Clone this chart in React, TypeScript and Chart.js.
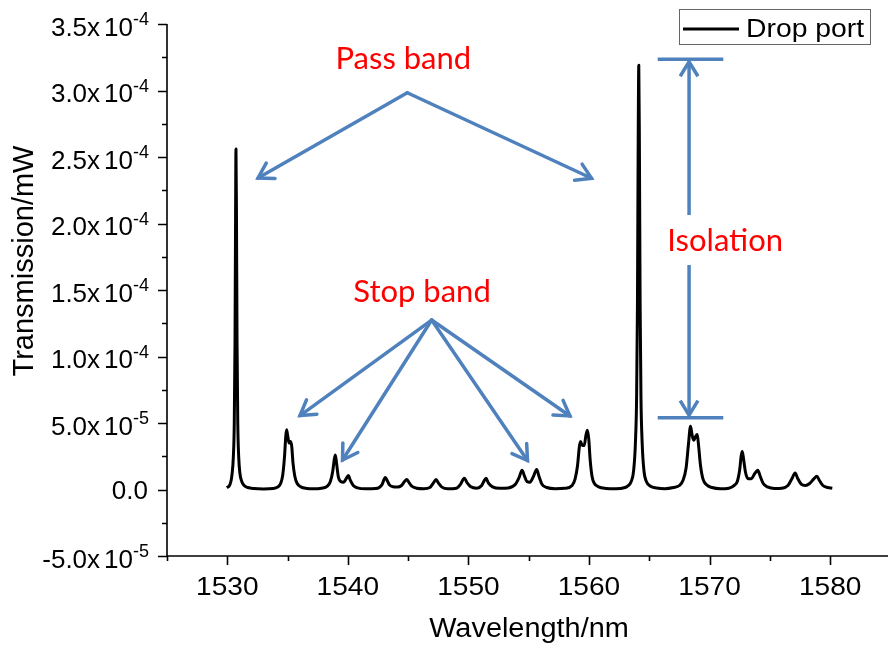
import React, { useEffect, useRef } from "react";
import { Chart, registerables } from "chart.js";

Chart.register(...registerables);

// ---- Data ----
const WAVELENGTH = [
  1529.95, 1530.15, 1530.3, 1530.4, 1530.5, 1530.58, 1530.64, 1530.69, 1530.72, 1530.76,
  1530.81, 1530.87, 1530.95, 1531.05, 1531.2, 1531.4, 1531.7, 1532.2, 1533.0, 1533.8,
  1534.2, 1534.45, 1534.6, 1534.75, 1534.85, 1534.92, 1535.02, 1535.12, 1535.25, 1535.35,
  1535.45, 1535.6, 1535.8, 1536.1, 1536.6, 1537.2, 1537.8, 1538.3, 1538.55, 1538.75,
  1538.88, 1538.96, 1539.06, 1539.2, 1539.4, 1539.65, 1539.85, 1540.04, 1540.2, 1540.45,
  1540.8, 1541.5, 1542.3, 1542.6, 1542.85, 1543.0, 1543.11, 1543.25, 1543.45, 1543.75,
  1544.1, 1544.45, 1544.7, 1544.88, 1545.05, 1545.3, 1545.7, 1546.3, 1546.8, 1547.1,
  1547.32, 1547.5, 1547.8, 1548.3, 1549.0, 1549.35, 1549.66, 1549.9, 1550.2, 1550.7,
  1551.1, 1551.3, 1551.46, 1551.65, 1552.0, 1552.6, 1553.3, 1553.9, 1554.2, 1554.45,
  1554.65, 1554.85, 1555.1, 1555.4, 1555.66, 1555.85, 1556.1, 1556.5, 1557.2, 1558.0,
  1558.6, 1558.85, 1559.05, 1559.2, 1559.3, 1559.45, 1559.6, 1559.75, 1559.87, 1559.98,
  1560.1, 1560.25, 1560.45, 1560.8, 1561.4, 1562.2, 1563.0, 1563.2, 1563.5, 1563.7,
  1563.85, 1563.95, 1564.02, 1564.08, 1564.13, 1564.18, 1564.24, 1564.31, 1564.41, 1564.56,
  1564.76, 1565.1, 1565.6, 1566.3, 1567.0, 1567.5, 1567.8, 1568.05, 1568.25, 1568.42,
  1568.55, 1568.7, 1568.85, 1568.98, 1569.1, 1569.25, 1569.45, 1569.75, 1570.2, 1570.9,
  1571.6, 1572.1, 1572.3, 1572.5, 1572.62, 1572.71, 1572.82, 1572.98, 1573.2, 1573.45,
  1573.75, 1574.0, 1574.2, 1574.45, 1574.8, 1575.4, 1576.0, 1576.5, 1576.85, 1577.1,
  1577.3, 1577.6, 1577.95, 1578.3, 1578.65, 1578.9, 1579.1, 1579.4, 1579.8, 1580.18,
];

const TRANSMISSION = [
  1.5e-6, 2.5e-6, 6e-6, 1.2e-5, 2.4e-5, 5.0e-5, 1.1e-4, 2.1e-4, 2.56e-4, 2.1e-4,
  1.1e-4, 5.0e-5, 2.4e-5, 1.2e-5, 6e-6, 3e-6, 1.5e-6, 7e-7, 4e-7, 7e-7,
  2e-6, 5e-6, 1.1e-5, 2.5e-5, 4.0e-5, 4.5e-5, 4.0e-5, 3.5e-5, 3.6e-5, 3.2e-5,
  2.0e-5, 1.0e-5, 4.5e-6, 2e-6, 8e-7, 5e-7, 1e-6, 2.5e-6, 6e-6, 1.4e-5,
  2.3e-5, 2.6e-5, 2.0e-5, 1.0e-5, 6e-6, 5.5e-6, 8e-6, 1.05e-5, 7e-6, 3e-6,
  1.2e-6, 5e-7, 7e-7, 1.5e-6, 4e-6, 7.5e-6, 9e-6, 7e-6, 3.5e-6, 2e-6,
  1.8e-6, 3e-6, 6e-6, 7.5e-6, 5.5e-6, 2.5e-6, 1e-6, 6e-7, 1.5e-6, 5e-6,
  7.5e-6, 5e-6, 1.8e-6, 6e-7, 1e-6, 4e-6, 8.5e-6, 5e-6, 2e-6, 1e-6,
  3e-6, 6.5e-6, 8.5e-6, 5e-6, 2e-6, 9e-7, 1.2e-6, 4e-6, 9e-6, 1.45e-5,
  1e-5, 6e-6, 5.5e-6, 1e-5, 1.5e-5, 1e-5, 4e-6, 1.5e-6, 6e-7, 9e-7,
  3e-6, 8e-6, 1.8e-5, 3.2e-5, 3.6e-5, 3.3e-5, 3.3e-5, 4.1e-5, 4.45e-5, 3.8e-5,
  2.2e-5, 1.0e-5, 4.5e-6, 2e-6, 8e-7, 5e-7, 1.5e-6, 2.5e-6, 6e-6, 1.4e-5,
  3.5e-5, 7e-5, 1.4e-4, 2.6e-4, 3.19e-4, 2.6e-4, 1.4e-4, 7e-5, 3.5e-5, 1.4e-5,
  6e-6, 2.5e-6, 1.2e-6, 6e-7, 1.5e-6, 3e-6, 7e-6, 1.6e-5, 3.4e-5, 4.75e-5,
  4.1e-5, 3.7e-5, 4.0e-5, 4.13e-5, 3.2e-5, 1.8e-5, 8e-6, 3.5e-6, 1.5e-6, 6e-7,
  1e-6, 3.5e-6, 6e-6, 1.5e-5, 2.5e-5, 2.85e-5, 2.3e-5, 1.3e-5, 8e-6, 8e-6,
  1.2e-5, 1.45e-5, 1e-5, 4.5e-6, 2e-6, 8e-7, 1e-6, 3e-6, 8.5e-6, 1.25e-5,
  8.5e-6, 4e-6, 3e-6, 4.5e-6, 8e-6, 1e-5, 7e-6, 3e-6, 1.5e-6, 1e-6,
];

const SERIES_LABEL = "Drop port";
const X_TITLE = "Wavelength/nm";
const Y_TITLE = "Transmission/mW";

const X_MAJOR = [1530, 1540, 1550, 1560, 1570, 1580];
const X_MINOR = [1525, 1535, 1545, 1555, 1565, 1575];
const Y_MAJOR = [-5e-5, 0, 5e-5, 1e-4, 1.5e-4, 2e-4, 2.5e-4, 3e-4, 3.5e-4];
const Y_MANTISSA = ["-5.0", "0.0", "5.0", "1.0", "1.5", "2.0", "2.5", "3.0", "3.5"];
const Y_EXPONENT = ["-5", "", "-5", "-4", "-4", "-4", "-4", "-4", "-4"];
const Y_MINOR = [-2.5e-5, 2.5e-5, 7.5e-5, 1.25e-4, 1.75e-4, 2.25e-4, 2.75e-4, 3.25e-4];

// Annotations (in data coordinates)
const PASS_TEXT = { text: "Pass band", x: 1544.6, y: 3.158e-4 };
const PASS_APEX = { x: 1544.93, y: 2.983e-4 };
const PASS_TIPS = [
  { x: 1532.55, y: 2.342e-4 },
  { x: 1560.21, y: 2.34e-4 },
];
const STOP_TEXT = { text: "Stop band", x: 1546.15, y: 1.41e-4 };
const STOP_APEX = { x: 1546.95, y: 1.274e-4 };
const STOP_TIPS = [
  { x: 1536.03, y: 5.56e-5 },
  { x: 1539.56, y: 2.22e-5 },
  { x: 1554.9, y: 2.18e-5 },
  { x: 1558.42, y: 5.53e-5 },
];
const ISO_TEXT = { text: "Isolation", x: 1566.5, y: 1.793e-4 };
const ISO_ARROW = { x: 1568.3, top: 3.235e-4, bottom: 5.4e-5, capLeft: 1565.7, capRight: 1571.14 };

const BLUE = "#4F81BD";
const RED = "#FF0000";
const SANS = "'Liberation Sans', Arial, sans-serif";
const ANNOT_FONT = "Lato, 'Open Sans', sans-serif";

function stretchedText(
  ctx: CanvasRenderingContext2D,
  text: string,
  x: number,
  y: number,
  align: CanvasTextAlign,
  sx: number
) {
  ctx.save();
  ctx.translate(x, y);
  ctx.scale(sx, 1);
  ctx.textAlign = align;
  ctx.textBaseline = "alphabetic";
  ctx.fillText(text, 0, 0);
  ctx.restore();
}

function arrow(ctx: CanvasRenderingContext2D, x1: number, y1: number, x2: number, y2: number) {
  ctx.beginPath();
  ctx.moveTo(x1, y1);
  ctx.lineTo(x2, y2);
  ctx.stroke();
  const a = Math.atan2(y2 - y1, x2 - x1);
  const L = 17;
  const ang = 0.55;
  ctx.beginPath();
  ctx.moveTo(x2 - L * Math.cos(a - ang), y2 - L * Math.sin(a - ang));
  ctx.lineTo(x2, y2);
  ctx.lineTo(x2 - L * Math.cos(a + ang), y2 - L * Math.sin(a + ang));
  ctx.stroke();
}

const decorPlugin = {
  id: "decor",
  afterDraw(chart: any) {
    const ctx: CanvasRenderingContext2D = chart.ctx;
    const xs = chart.scales.x;
    const ys = chart.scales.y;
    const area = chart.chartArea;
    const px = (v: number) => xs.getPixelForValue(v);
    const py = (v: number) => ys.getPixelForValue(v);

    ctx.save();
    // axes
    ctx.strokeStyle = "#000";
    ctx.lineWidth = 1.6;
    ctx.lineCap = "butt";
    ctx.beginPath();
    ctx.moveTo(area.left, py(3.5e-4));
    ctx.lineTo(area.left, area.bottom);
    ctx.lineTo(area.right, area.bottom);
    ctx.stroke();

    // ticks
    ctx.beginPath();
    Y_MAJOR.forEach((v) => {
      const y = Math.round(py(v)) + 0.5;
      ctx.moveTo(area.left, y);
      ctx.lineTo(area.left - 9, y);
    });
    Y_MINOR.forEach((v) => {
      const y = Math.round(py(v)) + 0.5;
      ctx.moveTo(area.left, y);
      ctx.lineTo(area.left - 5, y);
    });
    X_MAJOR.forEach((v) => {
      const x = Math.round(px(v)) + 0.5;
      ctx.moveTo(x, area.bottom);
      ctx.lineTo(x, area.bottom + 9);
    });
    X_MINOR.forEach((v) => {
      const x = Math.round(px(v)) + 0.5;
      ctx.moveTo(x, area.bottom);
      ctx.lineTo(x, area.bottom + 5);
    });
    ctx.stroke();

    // y labels
    ctx.fillStyle = "#000";
    const rightEdge = area.left - 18;
    Y_MAJOR.forEach((v, i) => {
      const ty = py(v);
      const exp = Y_EXPONENT[i];
      ctx.font = `26px ${SANS}`;
      if (!exp) {
        stretchedText(ctx, Y_MANTISSA[i], rightEdge - 1, ty + 9.5, "right", 1);
        return;
      }
      const m = Y_MANTISSA[i] + "x";
      const wm = ctx.measureText(m).width;
      const w10 = ctx.measureText("10").width;
      ctx.font = `18px ${SANS}`;
      const ws = ctx.measureText(exp).width;
      const gap = 4;
      const start = rightEdge - (wm + gap + w10 + ws);
      ctx.font = `26px ${SANS}`;
      stretchedText(ctx, m, start, ty + 11.5, "left", 1);
      stretchedText(ctx, "10", start + wm + gap, ty + 11.5, "left", 1);
      ctx.font = `18px ${SANS}`;
      stretchedText(ctx, exp, start + wm + gap + w10, ty + 1, "left", 1);
    });

    // x labels
    ctx.font = `26px ${SANS}`;
    X_MAJOR.forEach((v) => {
      stretchedText(ctx, String(v), px(v), area.bottom + 39, "center", 1.08);
    });

    // axis titles
    ctx.font = `27px ${SANS}`;
    stretchedText(ctx, X_TITLE, 529, area.bottom + 81, "center", 1.07);
    ctx.save();
    ctx.translate(33, (area.top + area.bottom) / 2 - 29);
    ctx.rotate(-Math.PI / 2);
    ctx.font = `29px ${SANS}`;
    ctx.textAlign = "center";
    ctx.textBaseline = "alphabetic";
    ctx.fillText(Y_TITLE, 0, 0);
    ctx.restore();

    // annotation arrows
    ctx.strokeStyle = BLUE;
    ctx.lineWidth = 3.5;
    ctx.lineJoin = "miter";
    ctx.lineCap = "round";
    PASS_TIPS.forEach((t) => arrow(ctx, px(PASS_APEX.x), py(PASS_APEX.y), px(t.x), py(t.y)));
    STOP_TIPS.forEach((t) => arrow(ctx, px(STOP_APEX.x), py(STOP_APEX.y), px(t.x), py(t.y)));

    // isolation arrow
    const ix = px(ISO_ARROW.x);
    const itop = py(ISO_ARROW.top);
    const ibot = py(ISO_ARROW.bottom);
    ctx.lineCap = "butt";
    ctx.beginPath();
    ctx.moveTo(px(ISO_ARROW.capLeft), itop);
    ctx.lineTo(px(ISO_ARROW.capRight), itop);
    ctx.moveTo(px(ISO_ARROW.capLeft), ibot);
    ctx.lineTo(px(ISO_ARROW.capRight), ibot);
    ctx.stroke();
    const mid = (itop + ibot) / 2;
    arrow(ctx, ix, mid, ix, itop + 2.5);
    arrow(ctx, ix, mid, ix, ibot - 2.5);

    // annotation texts
    ctx.fillStyle = RED;
    ctx.font = `31px ${ANNOT_FONT}`;
    stretchedText(ctx, PASS_TEXT.text, px(PASS_TEXT.x), py(PASS_TEXT.y), "center", 1);
    stretchedText(ctx, STOP_TEXT.text, px(STOP_TEXT.x), py(STOP_TEXT.y), "center", 1);
    const isoX = px(ISO_TEXT.x);
    const isoY = py(ISO_TEXT.y);
    const isoW = ctx.measureText(ISO_TEXT.text).width;
    ctx.fillStyle = "#fff";
    ctx.fillRect(isoX - 4, isoY - 36, isoW + 8, 50);
    ctx.fillStyle = RED;
    stretchedText(ctx, ISO_TEXT.text, isoX, isoY, "left", 1);

    // legend
    ctx.strokeStyle = "#666";
    ctx.lineWidth = 1;
    ctx.strokeRect(679.5, 9.5, 191, 35);
    ctx.strokeStyle = "#000";
    ctx.lineWidth = 3;
    ctx.beginPath();
    ctx.moveTo(683, 29);
    ctx.lineTo(739, 29);
    ctx.stroke();
    ctx.fillStyle = "#000";
    ctx.font = `26px ${SANS}`;
    stretchedText(ctx, chart.data.datasets[0].label, 746, 37, "left", 1.09);

    ctx.restore();
  },
};

export default function App() {
  const ref = useRef<HTMLCanvasElement>(null);
  useEffect(() => {
    document.body.style.margin = "0";
    const canvas = ref.current;
    if (!canvas) return;
    const chart = new Chart(canvas, {
      type: "line",
      data: {
        datasets: [
          {
            label: SERIES_LABEL,
            data: WAVELENGTH.map((w, i) => ({ x: w, y: TRANSMISSION[i] })),
            borderColor: "#000",
            borderWidth: 3,
            pointRadius: 0,
            fill: false,
            cubicInterpolationMode: "monotone",
            borderJoinStyle: "round",
          } as any,
        ],
      },
      options: {
        animation: false,
        responsive: false,
        maintainAspectRatio: false,
        layout: { padding: { top: 24, left: 0, right: 0, bottom: 0 } },
        plugins: { legend: { display: false }, tooltip: { enabled: false } },
        scales: {
          x: {
            type: "linear",
            min: 1525,
            max: 1584.8,
            grid: { display: false },
            border: { display: false },
            ticks: { display: false },
            afterFit: (s: any) => {
              s.height = 90;
            },
          },
          y: {
            type: "linear",
            min: -5e-5,
            max: 3.5e-4,
            grid: { display: false },
            border: { display: false },
            ticks: { display: false },
            afterFit: (s: any) => {
              s.width = 167;
            },
          },
        },
      },
      plugins: [decorPlugin],
    });
    return () => chart.destroy();
  }, []);
  return (
    <div style={{ width: 888, height: 646 }}>
      <canvas ref={ref} width={888} height={646} style={{ display: "block" }} />
    </div>
  );
}
